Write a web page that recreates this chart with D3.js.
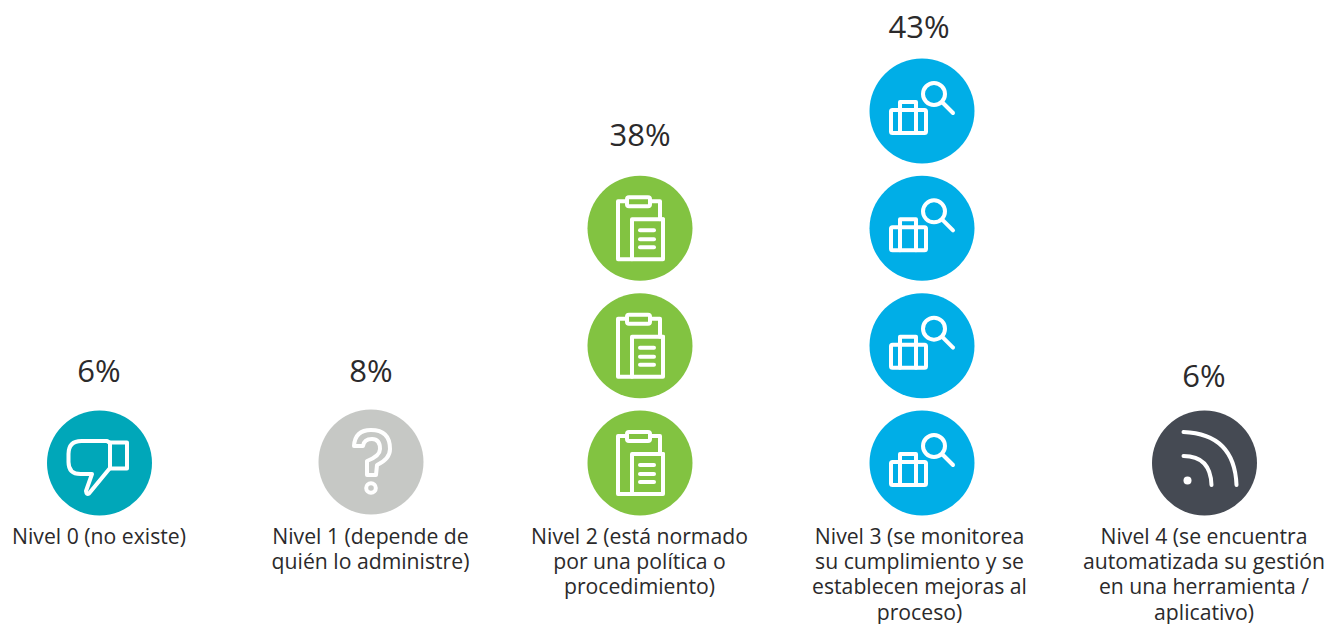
<!DOCTYPE html>
<html><head><meta charset="utf-8">
<script src="https://cdn.jsdelivr.net/npm/d3@7"></script>
<style>html,body{margin:0;background:#fff}svg{display:block}text{font-family:"Open Sans",sans-serif;fill:#2b2a2b}</style>
</head><body><svg id="c" width="1329" height="624"></svg>
<script>
const levels = ["Nivel 0","Nivel 1","Nivel 2","Nivel 3","Nivel 4"];
const percents = [6, 8, 38, 43, 6];
const iconCounts = [1, 1, 3, 4, 1];
const labels = [
  ["Nivel 0 (no existe)"],
  ["Nivel 1 (depende de","quién lo administre)"],
  ["Nivel 2 (está normado","por una política o","procedimiento)"],
  ["Nivel 3 (se monitorea","su cumplimiento y se","establecen mejoras al","proceso)"],
  ["Nivel 4 (se encuentra","automatizada su gestión","en una herramienta /","aplicativo)"]
];
const colors = ["#00a7b9","#c6c8c5","#82c341","#00aee7","#454a53"];

const svg = d3.select("#c");
const x = d3.scaleOrdinal().domain(levels).range([99.5, 371, 640, 922, 1204.5]);
const y = d3.scaleLinear().domain([0, 3]).range([463, 111]);
const color = d3.scaleOrdinal().domain(levels).range(colors);
const R = 52.5;

const icons = [
  g => { // pulgar abajo
    g.append("path").attr("d","M7.5,-22 L-18,-22 Q-31,-22 -31,-9 L-31,-1 Q-31,11 -19,11 L-7.5,11 L-13.5,28 Q-13,32 -10.5,30.5 L10.5,5 L10.5,-20 Z");
    g.append("path").attr("d","M10.5,-20.5 L27.5,-20.5 L27.5,5.5 L10.5,5.5");
  },
  g => { // interrogación
    g.append("path").attr("d","M-17,-16 Q-16,-32 0,-32 Q19,-32 19,-13 Q19,-3 6,3 L5,13 L-4,13 L-4,-1 Q9,-6 9,-13 Q9,-23 1,-23 Q-7,-23 -8,-16 Z");
    g.append("circle").attr("cy",26).attr("r",4.8);
  },
  g => { // portapapeles
    g.append("path").attr("d","M-13,-27 L-22,-27 L-22,31 L23,31 L23,-9 M20,-9 L20,-27 L10,-27");
    g.append("path").attr("d","M-8,31 L-8,-9 L23,-9");
    g.append("rect").attr("x",-13).attr("y",-31).attr("width",23).attr("height",9).attr("rx",2);
    g.selectAll("line").data([2,11,19]).join("line")
      .attr("x1",0).attr("x2",14).attr("y1",d=>d).attr("y2",d=>d).attr("stroke-width",4);
  },
  g => { // maletín y lupa
    g.append("circle").attr("cx",12).attr("cy",-17).attr("r",11);
    g.append("path").attr("d","M21,-8 L31,2");
    g.append("rect").attr("x",-31).attr("y",-1).attr("width",35).attr("height",23).attr("rx",1.5);
    g.append("path").attr("d","M-22,22 L-22,-9 L-6,-9 L-6,22");
  },
  g => { // señal
    g.append("circle").attr("cx",-17).attr("cy",17.5).attr("r",4).attr("fill","#fff").attr("stroke","none");
    g.append("path").attr("d","M-21,-7 Q6,-7 7,22");
    g.append("path").attr("d","M-21,-31 Q30,-29 32,22");
  }
];

const pctY = [382, 382, 146, 38, 387];
const pctDx = [-0.5, 0, 0, -3, -0.5];

const cols = svg.selectAll("g.col").data(levels).join("g").attr("class","col");
cols.each(function(l, i){
  const col = d3.select(this);
  const stack = col.selectAll("g.ic").data(d3.range(iconCounts[i])).join("g").attr("class","ic")
    .attr("transform", k => `translate(${x(l)},${y(k) - (i===1?1:0)})`);
  stack.append("circle").attr("r",R).attr("fill",color(l));
  stack.each(function(){
    const g = d3.select(this).append("g").attr("fill","none").attr("stroke","#fff")
      .attr("stroke-width",4).attr("stroke-linejoin","round").attr("stroke-linecap","round");
    icons[i](g);
  });
  col.append("text").attr("x",x(l)+pctDx[i]).attr("y",pctY[i])
    .attr("text-anchor","middle").attr("font-size",31).text(percents[i]+"%");
  const t = col.append("text").attr("text-anchor","middle").attr("font-size",21.2);
  t.selectAll("tspan").data(labels[i]).join("tspan")
    .attr("x", x(l) - (i===3?2.5:0.5)).attr("y",(d,j)=>543.7+j*25.3).text(d=>d);
});
</script></body></html>
